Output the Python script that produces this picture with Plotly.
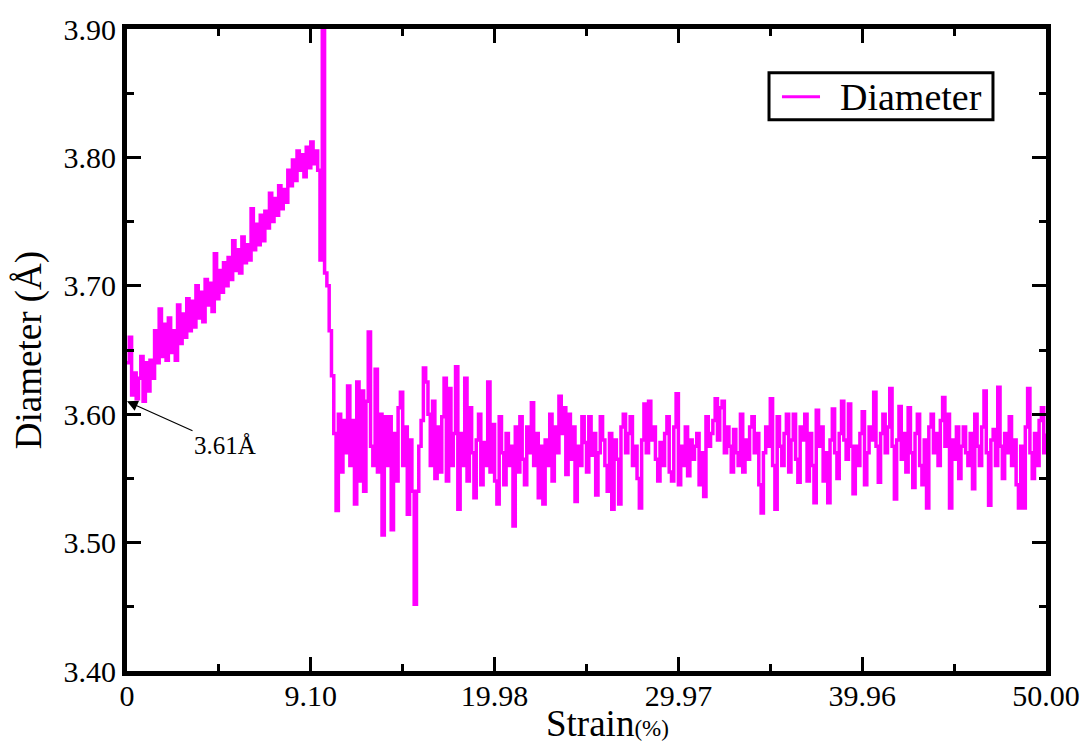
import plotly.graph_objects as go

# Diameter trace (Å), sampled every 0.125 units along the strain axis.
# Elastic stretching: diameter grows from ~3.61 Å to ~3.80 Å
diameter_elastic = [
    3.640, 3.660, 3.615, 3.632, 3.612, 3.628, 3.645, 3.610, 3.640, 3.618,
    3.642, 3.628, 3.665, 3.640, 3.682, 3.645, 3.670, 3.642, 3.675, 3.648,
    3.665, 3.642, 3.685, 3.655, 3.678, 3.660, 3.690, 3.665, 3.688, 3.668,
    3.700, 3.675, 3.695, 3.672, 3.705, 3.685, 3.702, 3.680, 3.725, 3.690,
    3.712, 3.695, 3.718, 3.700, 3.722, 3.705, 3.735, 3.712, 3.728, 3.710,
    3.738, 3.718, 3.732, 3.720, 3.760, 3.728, 3.748, 3.732, 3.755, 3.735,
    3.758, 3.745, 3.772, 3.750, 3.768, 3.755, 3.778, 3.760, 3.775, 3.765,
    3.790, 3.778, 3.798, 3.782, 3.805, 3.790, 3.802, 3.785, 3.808, 3.792,
    3.812, 3.795, 3.805, 3.790,
]
# Failure event: sharp spike, then collapse
diameter_failure = [3.720, 3.950, 3.710, 3.700, 3.665, 3.630, 3.585, 3.525]
# Post-failure fluctuation around ~3.575 Å
diameter_post = [
    3.600, 3.555, 3.595, 3.570, 3.622, 3.560, 3.595, 3.530, 3.625, 3.548,
    3.618, 3.540, 3.610, 3.664, 3.575, 3.560, 3.635, 3.555, 3.600, 3.506,
    3.598, 3.560, 3.598, 3.510, 3.585, 3.548, 3.605, 3.617, 3.560, 3.590,
    3.522, 3.580, 3.540, 3.452, 3.540, 3.575, 3.595, 3.636, 3.625, 3.600,
    3.560, 3.610, 3.550, 3.590, 3.555, 3.598, 3.628, 3.548, 3.620, 3.560,
    3.585, 3.637, 3.526, 3.585, 3.560, 3.628, 3.548, 3.605, 3.570, 3.535,
    3.580, 3.600, 3.545, 3.578, 3.560, 3.625, 3.555, 3.592, 3.548, 3.530,
    3.598, 3.570, 3.545, 3.585, 3.560, 3.575, 3.513, 3.590, 3.555, 3.598,
    3.565, 3.545, 3.590, 3.570, 3.609, 3.560, 3.585, 3.535, 3.575, 3.530,
    3.580, 3.560, 3.600, 3.548, 3.590, 3.570, 3.614, 3.585, 3.605, 3.553,
    3.600, 3.565, 3.590, 3.532, 3.575, 3.560, 3.598, 3.578, 3.555, 3.598,
    3.568, 3.585, 3.537, 3.570, 3.598, 3.580, 3.560, 3.540, 3.585, 3.526,
    3.580, 3.565, 3.530, 3.590, 3.600, 3.570, 3.585, 3.598, 3.560, 3.575,
    3.550, 3.527, 3.580, 3.608, 3.570, 3.610, 3.580, 3.590, 3.565, 3.548,
    3.578, 3.560, 3.585, 3.598, 3.555, 3.548, 3.590, 3.616, 3.545, 3.575,
    3.560, 3.590, 3.552, 3.580, 3.565, 3.575, 3.585, 3.545, 3.570, 3.536,
    3.598, 3.575, 3.585, 3.595, 3.612, 3.580, 3.605, 3.610, 3.570, 3.590,
    3.575, 3.555, 3.588, 3.570, 3.560, 3.600, 3.555, 3.580, 3.565, 3.590,
    3.598, 3.570, 3.585, 3.545, 3.523, 3.570, 3.590, 3.575, 3.612, 3.560,
    3.526, 3.598, 3.575, 3.560, 3.585, 3.600, 3.555, 3.580, 3.600, 3.565,
    3.547, 3.590, 3.580, 3.600, 3.548, 3.585, 3.560, 3.531, 3.603, 3.575,
    3.590, 3.548, 3.570, 3.531, 3.580, 3.604, 3.570, 3.550, 3.585, 3.610,
    3.580, 3.565, 3.608, 3.575, 3.538, 3.575, 3.560, 3.585, 3.602, 3.545,
    3.570, 3.590, 3.580, 3.617, 3.575, 3.547, 3.585, 3.600, 3.570, 3.590,
    3.620, 3.575, 3.534, 3.580, 3.606, 3.565, 3.585, 3.555, 3.605, 3.570,
    3.543, 3.585, 3.600, 3.560, 3.545, 3.580, 3.527, 3.590, 3.600, 3.570,
    3.585, 3.560, 3.595, 3.613, 3.575, 3.600, 3.527, 3.580, 3.565, 3.590,
    3.550, 3.575, 3.590, 3.570, 3.560, 3.585, 3.542, 3.600, 3.575, 3.560,
    3.590, 3.618, 3.570, 3.529, 3.580, 3.588, 3.560, 3.621, 3.575, 3.550,
    3.585, 3.570, 3.598, 3.560, 3.580, 3.545, 3.527, 3.575, 3.527, 3.590,
    3.620, 3.570, 3.550, 3.585, 3.560, 3.595, 3.605, 3.570, 3.585,
]

diameter = diameter_elastic + diameter_failure + diameter_post
sample_step = 0.125
strain_axis = [i * sample_step for i in range(len(diameter))]

x_tick_pos = [0, 10, 20, 30, 40, 50]
x_tick_text = ["0", "9.10", "19.98", "29.97", "39.96", "50.00"]
x_minor_pos = [5, 15, 25, 35, 45]
y_tick_vals = [3.40, 3.50, 3.60, 3.70, 3.80, 3.90]
y_minor_vals = [3.45, 3.55, 3.65, 3.75, 3.85]
initial_diameter = 3.61
series_name = "Diameter"
line_color = "#ff00ff"

SERIF = "Liberation Serif, Times New Roman, serif"

fig = go.Figure()
fig.add_trace(go.Scatter(
    x=strain_axis, y=diameter, mode="lines", name=series_name,
    line=dict(color=line_color, width=3.5, shape="hv"),
    showlegend=False,
))

axis_common = dict(
    showline=True, linewidth=5, linecolor="black", mirror="allticks",
    ticks="inside", ticklen=14, tickwidth=3, tickcolor="black",
    showgrid=False, zeroline=False,
    tickfont=dict(family=SERIF, size=30, color="black"),
)

fig.update_xaxes(
    range=[0, 50], tickmode="array", tickvals=x_tick_pos, ticktext=x_tick_text,
    ticklabelstandoff=-6,
    minor=dict(tickmode="array", tickvals=x_minor_pos, ticks="inside",
               ticklen=7, tickwidth=3, tickcolor="black", showgrid=False),
    **axis_common,
)
fig.update_yaxes(
    range=[3.40, 3.90], tickmode="array", tickvals=y_tick_vals, tickformat=".2f",
    minor=dict(tickmode="array", tickvals=y_minor_vals, ticks="inside",
               ticklen=7, tickwidth=3, tickcolor="black", showgrid=False),
    title=dict(text="Diameter (Å)", font=dict(family=SERIF, size=37, color="black"),
               standoff=12),
    **axis_common,
)

# Arrow marking the starting diameter
fig.add_annotation(
    x=0, y=initial_diameter, xref="x", yref="y",
    text=f"{initial_diameter:.2f}Å", showarrow=True,
    arrowhead=2, arrowsize=1.8, arrowwidth=1.2, arrowcolor="black",
    ax=98, ay=44, font=dict(family=SERIF, size=25, color="black"),
)
# x-axis title with smaller unit text
fig.add_annotation(
    x=0.523, y=0, xref="paper", yref="paper", yshift=-30,
    xanchor="center", yanchor="top", showarrow=False,
    text="Strain<span style='font-size:23px'>(%)</span>",
    font=dict(family=SERIF, size=37, color="black"),
)

# Boxed key in the upper right of the plot area
fig.add_shape(type="rect", xref="paper", yref="paper",
              x0=0.6986, x1=0.9423, y0=0.8587, y1=0.9317,
              line=dict(color="black", width=3), fillcolor="white", layer="above")
fig.add_shape(type="line", xref="paper", yref="paper",
              x0=0.7127, x1=0.7541, y0=0.8944, y1=0.8944,
              line=dict(color=line_color, width=3), layer="above")
fig.add_annotation(
    x=0.7737, y=0.8944, xref="paper", yref="paper",
    xanchor="left", yanchor="middle", showarrow=False,
    text=series_name, font=dict(family=SERIF, size=38, color="black"),
)

fig.update_layout(
    width=1092, height=749,
    margin=dict(l=127, r=46, t=27, b=78),
    paper_bgcolor="white", plot_bgcolor="white",
    showlegend=False,
)

fig.write_html("out.html")
